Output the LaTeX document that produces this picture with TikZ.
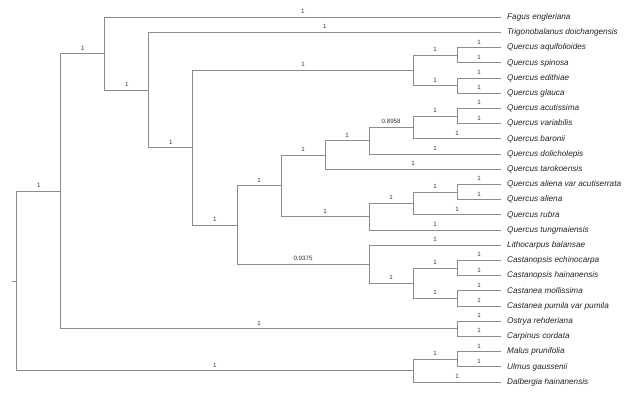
\documentclass[tikz,border=0pt]{standalone}
\usepackage{fontspec}
\newfontfamily\tipfont[WordSpace=1.8]{Liberation Sans}
\newfontfamily\blfont{Liberation Sans}
\definecolor{linegray}{HTML}{8C8C8C}
\definecolor{labgray}{HTML}{333333}
\definecolor{tipcol}{HTML}{222222}
\begin{document}
\begin{tikzpicture}[x=1pt,y=-1pt,
  branch/.style={draw=linegray, line width=0.9pt},
  bl/.style={font=\blfont\fontsize{6.2}{7}\selectfont, text=labgray, inner sep=1pt, anchor=south, yshift=2.2pt},
  tip/.style={anchor=west, font=\tipfont\itshape\fontsize{8.2}{10}\selectfont, text=tipcol, inner sep=0pt}]
\useasboundingbox (0,0) rectangle (633,402);
% tip end points
\foreach \i/\y in {0/17.3,1/32.5,2/47.7,3/62.9,4/78.1,5/93.3,6/108.5,7/123.7,8/138.9,9/154.1,10/169.3,11/184.5,12/199.7,13/214.9,14/230.1,15/245.3,16/260.5,17/275.7,18/290.9,19/306.1,20/321.3,21/336.5,22/351.7,23/366.9,24/382.1}
  \coordinate (t\i) at (501,\y);
% tip labels
\node[tip] (n0) at (507,17.3) {Fagus engleriana};
\node[tip] (n1) at (507,32.5) {Trigonobalanus doichangensis};
\node[tip] (n2) at (507,47.7) {Quercus aquifolioides};
\node[tip] (n3) at (507,62.9) {Quercus spinosa};
\node[tip] (n4) at (507,78.1) {Quercus edithiae};
\node[tip] (n5) at (507,93.3) {Quercus glauca};
\node[tip] (n6) at (507,108.5) {Quercus acutissima};
\node[tip] (n7) at (507,123.7) {Quercus variabilis};
\node[tip] (n8) at (507,138.9) {Quercus baronii};
\node[tip] (n9) at (507,154.1) {Quercus dolicholepis};
\node[tip] (n10) at (507,169.3) {Quercus tarokoensis};
\node[tip] (n11) at (507,184.5) {Quercus aliena var acutiserrata};
\node[tip] (n12) at (507,199.7) {Quercus aliena};
\node[tip] (n13) at (507,214.9) {Quercus rubra};
\node[tip] (n14) at (507,230.1) {Quercus tungmaiensis};
\node[tip] (n15) at (507,245.3) {Lithocarpus balansae};
\node[tip] (n16) at (507,260.5) {Castanopsis echinocarpa};
\node[tip] (n17) at (507,275.7) {Castanopsis hainanensis};
\node[tip] (n18) at (507,290.9) {Castanea mollissima};
\node[tip] (n19) at (507,306.1) {Castanea pumila var pumila};
\node[tip] (n20) at (507,321.3) {Ostrya rehderiana};
\node[tip] (n21) at (507,336.5) {Carpinus cordata};
\node[tip] (n22) at (507,351.7) {Malus prunifolia};
\node[tip] (n23) at (507,366.9) {Ulmus gaussenii};
\node[tip] (n24) at (507,382.1) {Dalbergia hainanensis};
% internal nodes
\coordinate (root) at (16.7,281.0);
\coordinate (stem) at (11.7,281.0);
\coordinate (A1) at (60.75,191.3);
\coordinate (D2) at (104.8,53.7);
\coordinate (F3) at (148.85,90.15);
\coordinate (G4) at (192.9,147.8);
\coordinate (H) at (413.15,70.5);
\coordinate (Pa) at (457.2,55.3);
\coordinate (Pb) at (457.2,85.7);
\coordinate (I5) at (236.95,225.1);
\coordinate (J6) at (281.0,185.9);
\coordinate (M7) at (325.05,155.05);
\coordinate (M8) at (369.1,140.8);
\coordinate (K) at (413.15,127.5);
\coordinate (Pc) at (457.2,116.1);
\coordinate (R8) at (369.1,216.8);
\coordinate (R9) at (413.15,203.5);
\coordinate (Pd) at (457.2,192.1);
\coordinate (C8) at (369.1,264.3);
\coordinate (C9) at (413.15,283.3);
\coordinate (Pe) at (457.2,268.1);
\coordinate (Pf) at (457.2,298.5);
\coordinate (E) at (457.2,328.9);
\coordinate (B9) at (413.15,370.7);
\coordinate (Pg) at (457.2,359.3);
% branches
\draw[branch] (stem) -- (root);
\foreach \p/\c/\l in {root/A1/1, root/B9/1, A1/D2/1, A1/E/1, D2/t0/1, D2/F3/1,
  F3/t1/1, F3/G4/1, G4/H/1, G4/I5/1, H/Pa/1, H/Pb/1, Pa/t2/1, Pa/t3/1, Pb/t4/1, Pb/t5/1,
  I5/J6/1, I5/C8/0.9375, J6/M7/1, J6/R8/1, M7/M8/1, M7/t10/1, M8/K/0.8958, M8/t9/1,
  K/Pc/1, K/t8/1, Pc/t6/1, Pc/t7/1, R8/R9/1, R8/t14/1, R9/Pd/1, R9/t13/1, Pd/t11/1, Pd/t12/1,
  C8/t15/1, C8/C9/1, C9/Pe/1, C9/Pf/1, Pe/t16/1, Pe/t17/1, Pf/t18/1, Pf/t19/1,
  E/t20/1, E/t21/1, B9/Pg/1, B9/t24/1, Pg/t22/1, Pg/t23/1}
  \draw[branch] (\p) |- node[bl,pos=0.75]{\l} (\c);
\end{tikzpicture}
\end{document}
